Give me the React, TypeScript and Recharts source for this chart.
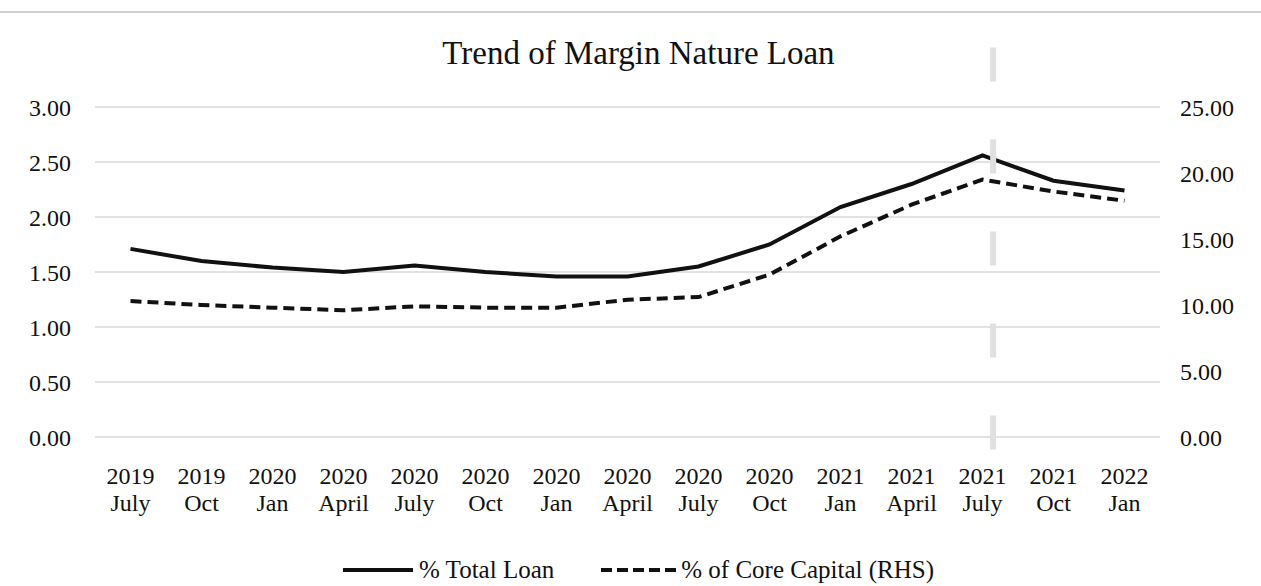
import {
  CartesianGrid,
  Line,
  LineChart,
  ReferenceLine,
  XAxis,
  YAxis,
} from "recharts";

const FONT = '"Liberation Serif", "Times New Roman", serif';

const years = [
  "2019", "2019", "2020", "2020", "2020", "2020", "2020", "2020",
  "2020", "2020", "2021", "2021", "2021", "2021", "2022",
];
const months = [
  "July", "Oct", "Jan", "April", "July", "Oct", "Jan", "April",
  "July", "Oct", "Jan", "April", "July", "Oct", "Jan",
];
const totalLoan = [
  1.71, 1.6, 1.54, 1.5, 1.56, 1.5, 1.46, 1.46, 1.55, 1.75, 2.09, 2.3, 2.56,
  2.33, 2.24,
];
const coreCapital = [
  10.3, 10.0, 9.8, 9.6, 9.9, 9.8, 9.8, 10.4, 10.6, 12.3, 15.2, 17.6, 19.5,
  18.6, 17.9,
];
const leftTicks = [0, 0.5, 1, 1.5, 2, 2.5, 3];
const rightTicks = [0, 5, 10, 15, 20, 25];
// marker sits just right of 2021 July
const markerX = 12.15;

const data = years.map((y, i) => ({
  idx: i,
  total: totalLoan[i],
  core: coreCapital[i],
}));

function XTick({ x, y, payload }: any) {
  const i = payload.value;
  return (
    <text
      x={x}
      y={y}
      textAnchor="middle"
      fill="#111"
      fontSize={24}
      fontFamily={FONT}
    >
      <tspan x={x} dy={47}>
        {years[i]}
      </tspan>
      <tspan x={x} dy={27}>
        {months[i]}
      </tspan>
    </text>
  );
}

export default function App() {
  const tickStyle = { fontSize: 24, fill: "#111", fontFamily: FONT };
  return (
    <div
      style={{
        position: "absolute",
        left: 0,
        top: 0,
        width: 1261,
        height: 586,
        background: "#fff",
        fontFamily: FONT,
        overflow: "hidden",
      }}
    >
      <div
        style={{
          position: "absolute",
          left: 0,
          top: 11,
          width: 1261,
          height: 2,
          background: "#d0d0d0",
        }}
      />
      <div
        style={{
          position: "absolute",
          left: 8,
          top: 37,
          width: 1261,
          textAlign: "center",
          fontSize: 33,
          lineHeight: "33px",
          color: "#111",
        }}
      >
        Trend of Margin Nature Loan
      </div>
      <LineChart
        width={1261}
        height={586}
        data={data}
        margin={{ top: 107, right: 0, left: 0, bottom: 0 }}
      >
        <CartesianGrid
          vertical={false}
          yAxisId="left"
          stroke="#d9d9d9"
          strokeWidth={1.5}
        />
        <XAxis
          dataKey="idx"
          type="number"
          domain={[-0.5, 14.5]}
          ticks={years.map((_, i) => i)}
          interval={0}
          height={149}
          axisLine={false}
          tickLine={false}
          tickSize={0}
          tickMargin={0}
          tick={<XTick />}
        />
        <YAxis
          yAxisId="left"
          orientation="left"
          width={95}
          domain={[0, 3]}
          ticks={leftTicks}
          axisLine={false}
          tickLine={false}
          tickSize={0}
          tickMargin={24}
          tick={tickStyle}
          tickFormatter={(v) => v.toFixed(2)}
        />
        <YAxis
          yAxisId="right"
          orientation="right"
          width={101}
          domain={[0, 25]}
          ticks={rightTicks}
          axisLine={false}
          tickLine={false}
          tickSize={0}
          tickMargin={20}
          tick={tickStyle}
          tickFormatter={(v) => v.toFixed(2)}
        />
        <Line
          yAxisId="left"
          type="linear"
          dataKey="total"
          stroke="#111"
          strokeWidth={4}
          dot={false}
          isAnimationActive={false}
        />
        <Line
          yAxisId="right"
          type="linear"
          dataKey="core"
          stroke="#111"
          strokeWidth={4}
          strokeDasharray="11 6"
          dot={false}
          isAnimationActive={false}
        />
        <ReferenceLine
          yAxisId="left"
          ifOverflow="visible"
          segment={[
            { x: markerX, y: 3.54 },
            { x: markerX, y: -0.12 },
          ]}
          stroke="#e0e0e0"
          strokeWidth={6}
          strokeDasharray="34 58"
        />
      </LineChart>
      <div
        style={{
          position: "absolute",
          left: 343,
          top: 556,
          display: "flex",
          alignItems: "center",
          fontSize: 25,
          color: "#111",
          whiteSpace: "nowrap",
        }}
      >
        <svg width={70} height={10} style={{ marginRight: 6 }}>
          <line x1={0} y1={5} x2={70} y2={5} stroke="#111" strokeWidth={4} />
        </svg>
        <span>% Total Loan</span>
        <svg width={75} height={10} style={{ marginLeft: 47, marginRight: 5 }}>
          <line
            x1={0}
            y1={5}
            x2={75}
            y2={5}
            stroke="#111"
            strokeWidth={4}
            strokeDasharray="11 5"
          />
        </svg>
        <span>% of Core Capital (RHS)</span>
      </div>
    </div>
  );
}
